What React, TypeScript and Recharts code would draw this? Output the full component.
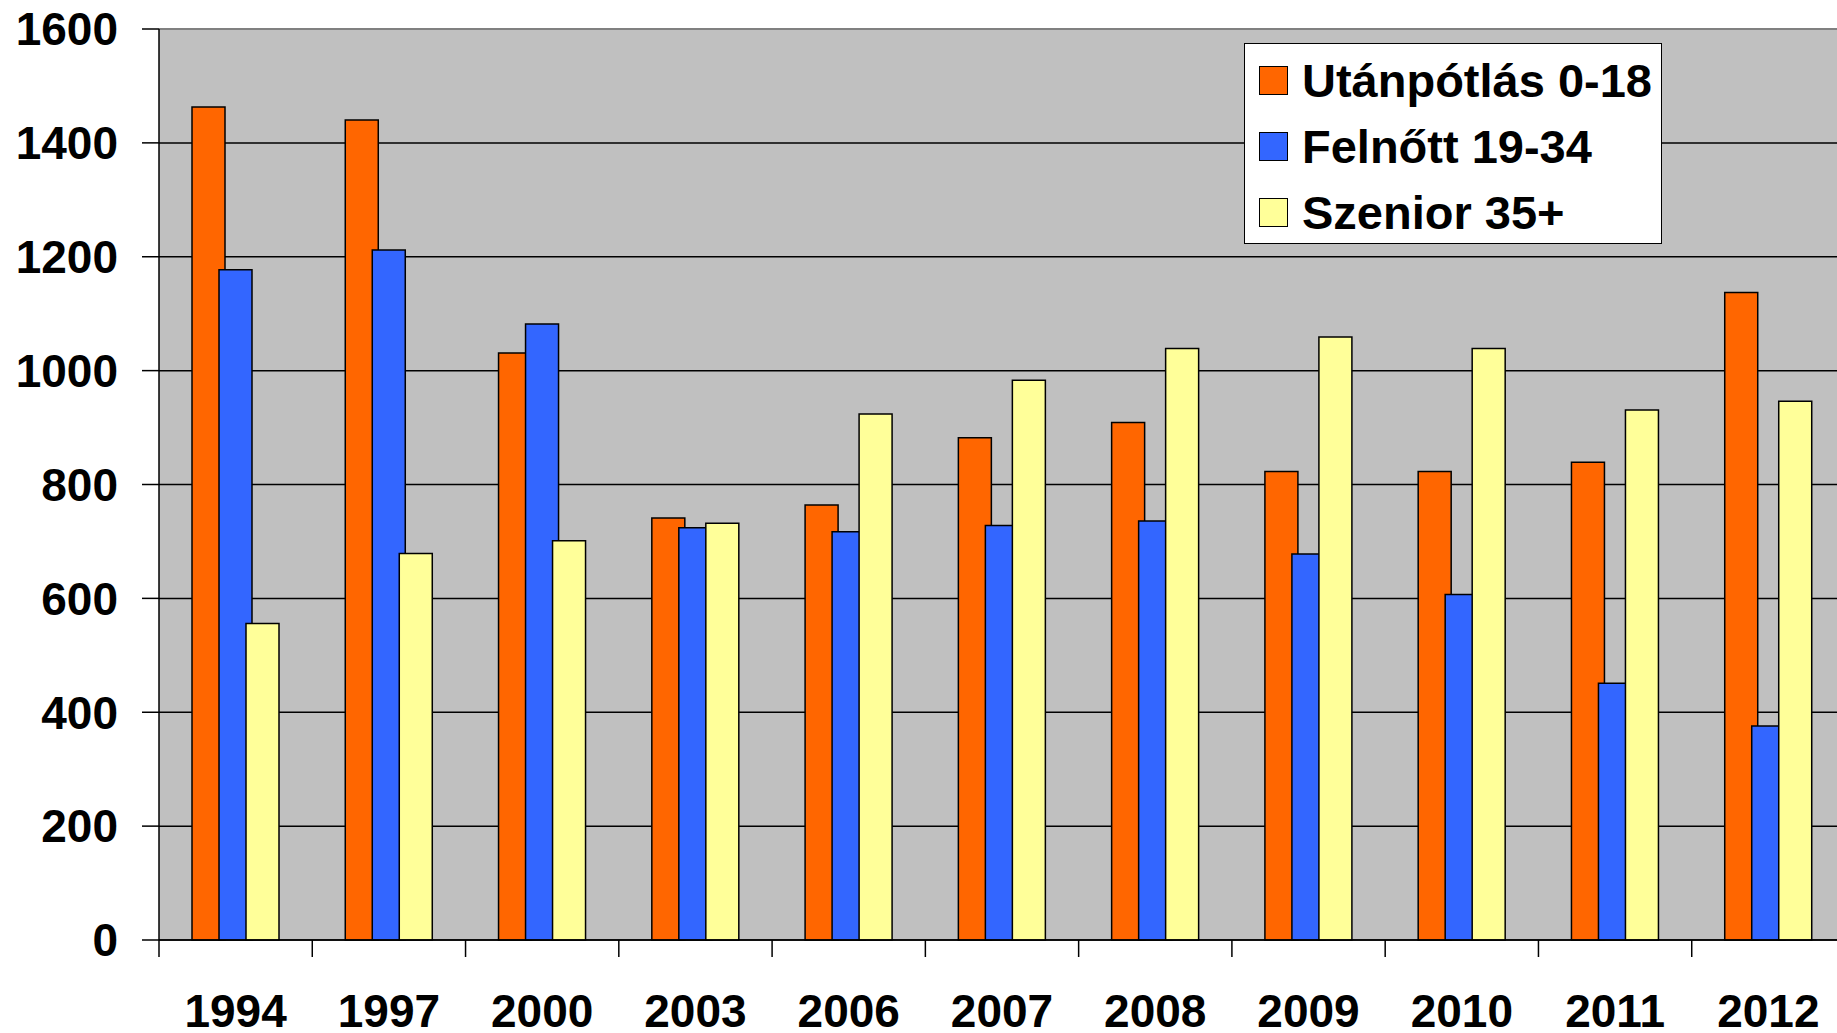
import React from 'react';
import { BarChart, Bar, XAxis, YAxis, CartesianGrid, Legend, ReferenceLine } from 'recharts';

const categories = ['1994', '1997', '2000', '2003', '2006', '2007', '2008', '2009', '2010', '2011', '2012'];
const utanpotlas = [1463, 1440, 1031, 741, 764, 882, 909, 823, 823, 839, 1137];
const felnott = [1177, 1212, 1082, 724, 717, 728, 736, 678, 607, 451, 376];
const szenior = [556, 679, 701, 732, 924, 983, 1039, 1059, 1039, 931, 946];
const yTicks = [0, 200, 400, 600, 800, 1000, 1200, 1400, 1600];

const seriesNames = ['Utánpótlás 0-18', 'Felnőtt 19-34', 'Szenior 35+'];
const seriesColors = ['#FF6600', '#3366FF', '#FFFF99'];

const data = categories.map((c, i) => ({
  year: c,
  u: utanpotlas[i],
  f: felnott[i],
  s: szenior[i],
}));

const FONT = '"Liberation Sans", Arial, Helvetica, sans-serif';
const X_TICK_SIZE = 17;
const X_TICK_MARGIN = 37;

const XTick = (props: any) => {
  const { x, y, payload } = props;
  const off = payload && typeof payload.offset === 'number' ? payload.offset : null;
  return (
    <g>
      {off !== null && (
        <line
          x1={x - off}
          x2={x - off}
          y1={y - X_TICK_SIZE - X_TICK_MARGIN}
          y2={y - X_TICK_MARGIN}
          stroke="#000"
          strokeWidth={1.5}
        />
      )}
      <text
        x={x}
        y={y}
        dy="0.71em"
        textAnchor="middle"
        fill="#000"
        fontFamily={FONT}
        fontWeight={700}
        fontSize={46}
      >
        {payload.value}
      </text>
    </g>
  );
};

const LegendBox = (props: any) => {
  const payload = [...(props.payload || [])].sort(
    (a: any, b: any) => seriesNames.indexOf(a.value) - seriesNames.indexOf(b.value)
  );
  return (
    <div
      style={{
        boxSizing: 'border-box',
        width: 418,
        height: 201,
        background: '#fff',
        border: '1.5px solid #000',
        paddingTop: 3,
        fontFamily: FONT,
      }}
    >
      {payload.map((p: any, i: number) => (
        <div key={i} style={{ height: 66, display: 'flex', alignItems: 'center', paddingLeft: 14 }}>
          <div
            style={{
              boxSizing: 'border-box',
              width: 29,
              height: 29,
              background: p.color,
              border: '1.5px solid #000',
              marginRight: 14,
            }}
          />
          <span style={{ fontSize: 47, fontWeight: 700, color: '#000', lineHeight: 1 }}>{p.value}</span>
        </div>
      ))}
    </div>
  );
};

export default function App() {
  return (
    <div style={{ position: 'absolute', left: 0, top: 0, width: 1837, height: 1033, overflow: 'hidden', background: '#fff' }}>
      <BarChart
        width={1845}
        height={1033}
        data={data}
        margin={{ top: 29, right: 0, left: 0, bottom: 0 }}
        barSize={33}
        barGap={-6}
      >
        <CartesianGrid vertical={false} stroke="#000" strokeWidth={1.5} fill="#C0C0C0" />
        <XAxis
          dataKey="year"
          height={93}
          tickSize={X_TICK_SIZE}
          tickMargin={X_TICK_MARGIN}
          tickLine={false}
          axisLine={{ stroke: '#000', strokeWidth: 1.5 }}
          tick={<XTick />}
          interval={0}
        />
        <YAxis
          width={159}
          domain={[0, 1600]}
          ticks={yTicks}
          interval={0}
          tickSize={17}
          tickMargin={24}
          axisLine={{ stroke: '#000', strokeWidth: 1.5 }}
          tickLine={{ stroke: '#000', strokeWidth: 1.5 }}
          tick={{ fill: '#000', fontFamily: FONT, fontWeight: 700, fontSize: 46 }}
        />
        <ReferenceLine y={1600} stroke="#808080" strokeWidth={2} />
        <Legend
          layout="horizontal"
          verticalAlign="middle"
          align="center"
          itemSorter={null as any}
          content={<LegendBox />}
          wrapperStyle={{ left: 1244, top: 43, width: 418, height: 201 }}
        />
        <Bar dataKey="u" name={seriesNames[0]} fill={seriesColors[0]} stroke="#000" strokeWidth={1.5} isAnimationActive={false} />
        <Bar dataKey="f" name={seriesNames[1]} fill={seriesColors[1]} stroke="#000" strokeWidth={1.5} isAnimationActive={false} />
        <Bar dataKey="s" name={seriesNames[2]} fill={seriesColors[2]} stroke="#000" strokeWidth={1.5} isAnimationActive={false} />
      </BarChart>
    </div>
  );
}
